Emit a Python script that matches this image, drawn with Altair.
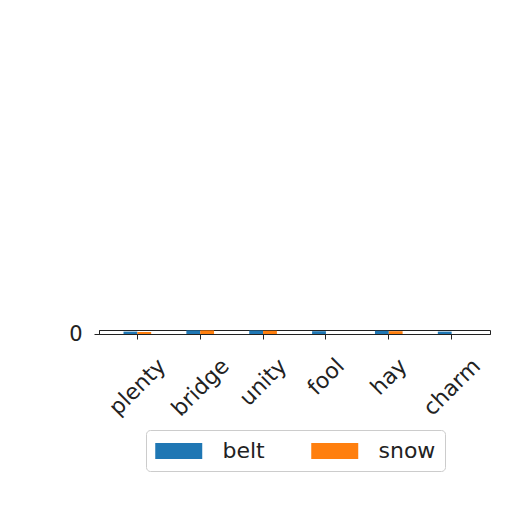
import altair as alt
import pandas as pd

categories = ["plenty", "bridge", "unity", "fool", "hay", "charm"]
series = ["belt", "snow"]
belt_values = [0.6, 0.9, 0.9, 0.7, 0.8, 0.6]
snow_values = [0.5, 0.9, 0.8, 0.0, 0.7, 0.0]
colors = ["#1f77b4", "#ff7f0e"]

rows = []
for c, b, s in zip(categories, belt_values, snow_values):
    rows.append({"cat": c, "series": "belt", "v": b})
    rows.append({"cat": c, "series": "snow", "v": s})
df = pd.DataFrame(rows)

FONT = "DejaVu Sans"
INK = "#222222"
TICK_FS = 22

# DejaVu Sans advance widths (units per em = 2048) to centre rotated labels
ADV = {"p": 1300, "l": 569, "e": 1260, "n": 1298, "t": 803, "y": 1212,
       "b": 1300, "r": 842, "i": 569, "d": 1300, "g": 1300, "u": 1298,
       "f": 721, "o": 1253, "h": 1298, "a": 1255, "c": 1126, "m": 1995}


def label_shift(word):
    w = sum(ADV.get(ch, 1200) for ch in word) / 2048 * TICK_FS
    return round(0.354 * w - 0.314 * TICK_FS, 1)


shift_expr = "".join(
    f"datum.value == '{c}' ? {label_shift(c)} : " for c in categories
) + "0"

chart = alt.Chart(df).mark_bar().encode(
    x=alt.X(
        "cat:N",
        sort=categories,
        scale=alt.Scale(paddingInner=0.56, paddingOuter=0.39),
        axis=alt.Axis(
            title=None,
            labelAngle=-45,
            labelAlign="right",
            labelBaseline="top",
            labelOffset={"expr": shift_expr},
            labelPadding=16,
            labelFontSize=TICK_FS,
            labelFont=FONT,
            labelColor=INK,
            tickSize=5,
            tickColor=INK,
            domainColor=INK,
        ),
    ),
    xOffset=alt.XOffset("series:N", sort=series),
    y=alt.Y(
        "v:Q",
        scale=alt.Scale(domain=[0, 1], nice=False),
        axis=alt.Axis(
            title=None,
            values=[0],
            grid=False,
            tickSize=5,
            tickColor=INK,
            domainColor=INK,
            labelPadding=12,
            labelFontSize=21,
            labelFont=FONT,
            labelColor=INK,
        ),
    ),
    color=alt.Color(
        "series:N",
        scale=alt.Scale(domain=series, range=colors),
        legend=alt.Legend(
            title=None,
            orient="none",
            legendX=47,
            legendY=100,
            direction="horizontal",
            columns=2,
            columnPadding=46,
            symbolType="M-1,-0.68H3V0.68H-1Z",
            symbolSize=552,
            symbolStrokeWidth=0,
            labelOffset=43.5,
            labelFontSize=22,
            labelFont=FONT,
            labelColor=INK,
            padding=9,
            fillColor="white",
            strokeColor="#cccccc",
            cornerRadius=4,
        ),
    ),
).properties(
    width=391,
    height=4,
    padding={"left": 91, "top": 322, "right": 14, "bottom": 170},
    autosize=alt.AutoSizeParams(type="none"),
).configure_view(
    stroke=INK,
    strokeWidth=1,
)

chart.save("out.html", embed_options={"renderer": "svg", "actions": False})
